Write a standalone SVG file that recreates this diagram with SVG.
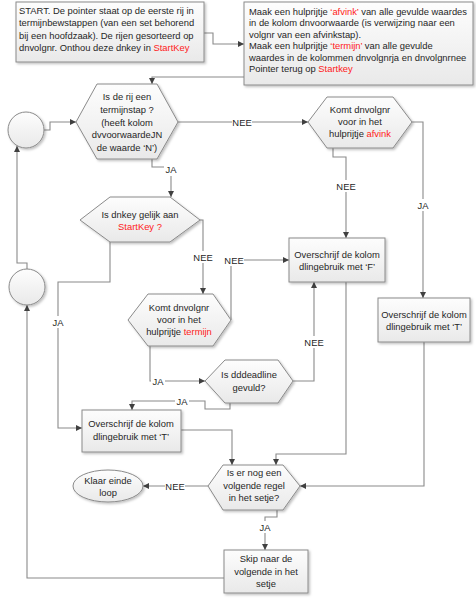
<svg xmlns="http://www.w3.org/2000/svg" width="476" height="600" viewBox="0 0 476 600">
<defs>
<linearGradient id="gBox" x1="0" y1="0" x2="0" y2="1"><stop offset="0" stop-color="#fdfdfd"/><stop offset="1" stop-color="#e9e9e9"/></linearGradient>
<filter id="sh" x="-10%" y="-10%" width="130%" height="140%"><feDropShadow dx="1.5" dy="1.5" stdDeviation="1" flood-color="#000" flood-opacity="0.25"/></filter>
<marker id="ar" markerWidth="7" markerHeight="6" refX="6" refY="3" orient="auto" markerUnits="userSpaceOnUse"><path d="M0,0 L6,3 L0,6 z" fill="#404040"/></marker>
<style>
.shape{fill:url(#gBox);stroke:#8a8a8a;stroke-width:1;filter:url(#sh)}
.t{font-family:"Liberation Sans",Arial,sans-serif;font-size:9.4px;fill:#262626}
.c{text-anchor:middle}
.r{fill:#ff1a1a}
.ln{fill:none;stroke:#8a8a8a;stroke-width:1.1;marker-end:url(#ar)}
.lb{fill:#fff}
</style>
</defs>
<rect width="476" height="600" fill="#fff"/>
<g id="connectors">
<path class="ln" d="M204,33 H213 V44 H244"/>
<path class="ln" d="M244,77 H152 V84"/>
<path class="ln" d="M44,130 H50 V122 H76"/>
<path class="ln" d="M178,122 H308"/>
<path class="ln" d="M152,159 V167 H171 V197"/>
<path class="ln" d="M333,148 V157 H346 V238"/>
<path class="ln" d="M412,122 H423 V298"/>
<path class="ln" d="M200,220 H203 V294"/>
<path class="ln" d="M231,320 V260 H289"/>
<path class="ln" d="M110,242 V282 H58 V428 H82"/>
<path class="ln" d="M150,346 V381 H205"/>
<path class="ln" d="M293,381 H314 V282"/>
<path class="ln" d="M230,403 V409 H205 V401 H132 V410"/>
<path class="ln" d="M181,430 H232 V465"/>
<path class="ln" d="M346,282 V454 H276 V465"/>
<path class="ln" d="M424,342 V486 H300"/>
<path class="ln" d="M208,486 H143"/>
<path class="ln" d="M277,510 V517 H265 V550"/>
<path class="ln" d="M224,578 H27 V305"/>
<path class="ln" d="M27,269 V263 H17 V146"/>
<g class="t">
<rect class="lb" x="232" y="116" width="20" height="12"/><text x="242" y="125.5" class="c">NEE</text>
<rect class="lb" x="164" y="164" width="14" height="12"/><text x="171" y="173" class="c">JA</text>
<rect class="lb" x="336" y="180" width="20" height="12"/><text x="346" y="189.5" class="c">NEE</text>
<rect class="lb" x="416" y="199" width="14" height="12"/><text x="423" y="208.5" class="c">JA</text>
<rect class="lb" x="193" y="251" width="20" height="12"/><text x="203" y="260.5" class="c">NEE</text>
<rect class="lb" x="224" y="254" width="20" height="12"/><text x="234" y="263.5" class="c">NEE</text>
<rect class="lb" x="51" y="316" width="14" height="12"/><text x="58" y="325.5" class="c">JA</text>
<rect class="lb" x="151" y="375" width="14" height="12"/><text x="158" y="384.5" class="c">JA</text>
<rect class="lb" x="304" y="336" width="20" height="12"/><text x="314" y="345.5" class="c">NEE</text>
<rect class="lb" x="175" y="395" width="14" height="12"/><text x="182" y="404.5" class="c">JA</text>
<rect class="lb" x="165" y="480" width="20" height="12"/><text x="175" y="489.5" class="c">NEE</text>
<rect class="lb" x="258" y="521" width="14" height="12"/><text x="265" y="530.5" class="c">JA</text>
</g>
</g>
<g id="start">
<rect class="shape" x="16" y="2" width="188" height="60"/>
<text class="t" x="19" y="13.5">START. De pointer staat op de eerste rij in</text>
<text class="t" x="19" y="26">termijnbewstappen (van een set behorend</text>
<text class="t" x="19" y="38.5">bij een hoofdzaak). De rijen gesorteerd op</text>
<text class="t" x="19" y="51">dnvolgnr. Onthou deze dnkey in <tspan class="r">StartKey</tspan></text>
</g>
<g id="hulprijtjes">
<rect class="shape" x="244" y="2" width="229" height="83"/>
<text class="t" x="249" y="14.8">Maak een hulprijtje <tspan class="r">‘afvink’</tspan> van alle gevulde waardes</text>
<text class="t" x="249" y="26.3">in de kolom dnvoorwaarde (is verwijzing naar een</text>
<text class="t" x="249" y="37.8">volgnr van een afvinkstap).</text>
<text class="t" x="249" y="49.3">Maak een hulprijtje <tspan class="r">‘termijn’</tspan> van alle gevulde</text>
<text class="t" x="249" y="60.8">waardes in de kolommen dnvolgnrja en dnvolgnrnee</text>
<text class="t" x="249" y="72.3">Pointer terug op <tspan class="r">Startkey</tspan></text>
</g>
<g id="connA"><circle class="shape" cx="26" cy="130" r="18"/></g>
<g id="connB"><circle class="shape" cx="27" cy="287" r="18"/></g>
<g id="q1">
<polygon class="shape" points="76,122 97,84 157,84 178,122 157,159 97,159"/>
<text class="t c" x="127" y="100.3">Is de rij een</text>
<text class="t c" x="127" y="113">termijnstap ?</text>
<text class="t c" x="127" y="125.5">(heeft kolom</text>
<text class="t c" x="127" y="138">dvvoorwaardeJN</text>
<text class="t c" x="127" y="150.5">de waarde ‘N’)</text>
</g>
<g id="q2">
<polygon class="shape" points="308,122 327,97 393,97 412,122 393,148 327,148"/>
<text class="t c" x="360" y="113.3">Komt dnvolgnr</text>
<text class="t c" x="360" y="125.3">voor in het</text>
<text class="t c" x="360" y="137.3">hulprijtje <tspan class="r">afvink</tspan></text>
</g>
<g id="q3">
<polygon class="shape" points="80,220 110,197 170,197 200,220 170,242 110,242"/>
<text class="t c" x="140" y="217.5">Is dnkey gelijk aan</text>
<text class="t c r" x="140" y="229.5">StartKey ?</text>
</g>
<g id="setF">
<rect class="shape" x="289" y="238" width="96" height="44"/>
<text class="t c" x="337" y="257.5">Overschrijf de kolom</text>
<text class="t c" x="337" y="270">dlingebruik met  ‘F’</text>
</g>
<g id="setT1">
<rect class="shape" x="378" y="298" width="92" height="44"/>
<text class="t c" x="424" y="317.5">Overschrijf de kolom</text>
<text class="t c" x="424" y="330">dlingebruik met  ‘T’</text>
</g>
<g id="q4">
<polygon class="shape" points="128,320 148,294 213,294 231,320 213,346 148,346"/>
<text class="t c" x="179" y="311.3">Komt dnvolgnr</text>
<text class="t c" x="179" y="323.3">voor in het</text>
<text class="t c" x="179" y="335.3">hulprijtje <tspan class="r">termijn</tspan></text>
</g>
<g id="q5">
<polygon class="shape" points="205,381 225,360 278,360 293,381 278,403 225,403"/>
<text class="t c" x="249" y="378.3">Is  dddeadline</text>
<text class="t c" x="249" y="390.8">gevuld?</text>
</g>
<g id="setT2">
<rect class="shape" x="82" y="410" width="99" height="42"/>
<text class="t c" x="131" y="427.3">Overschrijf de kolom</text>
<text class="t c" x="131" y="440">dlingebruik met  ‘T’</text>
</g>
<g id="q6">
<polygon class="shape" points="208,486 223,465 283,465 300,486 283,510 223,510"/>
<text class="t c" x="254" y="476.3">Is er nog een</text>
<text class="t c" x="254" y="488.8">volgende regel</text>
<text class="t c" x="254" y="501.3">in het setje?</text>
</g>
<g id="end">
<ellipse class="shape" cx="108" cy="486" rx="35" ry="16"/>
<text class="t c" x="108" y="483.5">Klaar einde</text>
<text class="t c" x="108" y="496">loop</text>
</g>
<g id="skip">
<rect class="shape" x="224" y="550" width="84" height="43"/>
<text class="t c" x="266" y="562.3">Skip naar de</text>
<text class="t c" x="266" y="574.8">volgende in het</text>
<text class="t c" x="266" y="587.3">setje</text>
</g>
</svg>
